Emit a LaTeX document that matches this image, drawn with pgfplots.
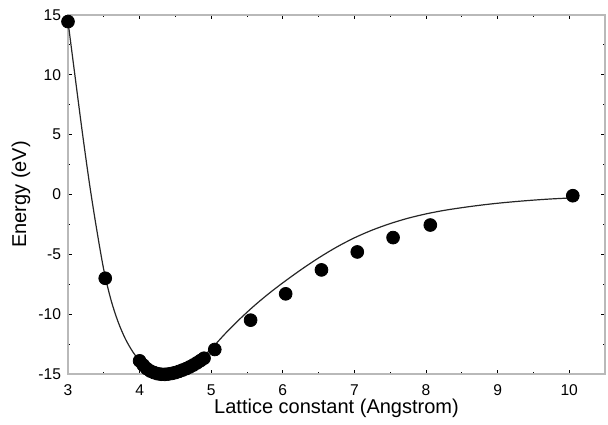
\documentclass[border=0pt]{standalone}
\usepackage{pgfplots}
\pgfplotsset{compat=1.18}
\usepackage{fontspec}
\setmainfont{Liberation Sans}

% fitted curve
\pgfplotstableread{
x      E
3.00   14.45
3.10   9.80
3.20   5.20
3.30   0.90
3.40  -2.90
3.50  -6.30
3.60  -8.80
3.70 -10.65
3.80 -12.05
3.90 -13.10
4.00 -13.90
4.10 -14.50
4.20 -14.85
4.30 -15.00
4.40 -15.00
4.50 -14.85
4.60 -14.60
4.70 -14.30
4.80 -13.90
4.90 -13.45
5.00 -12.90
5.20 -11.60
5.40 -10.40
5.60  -9.30
5.80  -8.30
6.00  -7.38
6.25  -6.30
6.50  -5.30
6.75  -4.40
7.00  -3.62
7.25  -2.97
7.50  -2.43
7.75  -1.98
8.00  -1.62
8.25  -1.33
8.50  -1.10
8.75  -0.90
9.00  -0.73
9.25  -0.59
9.50  -0.47
9.75  -0.37
10.05 -0.28
}\fitcurve

% computed energies
\pgfplotstableread{
x      E
3.00   14.45
3.52  -7.00
4.00 -13.90
4.05 -14.25
4.10 -14.55
4.15 -14.75
4.20 -14.88
4.25 -14.97
4.30 -15.02
4.35 -15.03
4.40 -15.00
4.45 -14.95
4.50 -14.88
4.55 -14.78
4.60 -14.67
4.65 -14.55
4.70 -14.41
4.75 -14.25
4.80 -14.07
4.85 -13.88
4.90 -13.68
5.05 -12.95
5.55 -10.50
6.04  -8.30
6.54  -6.30
7.04  -4.80
7.54  -3.60
8.06  -2.55
10.05 -0.10
}\energies

\begin{document}
\begin{tikzpicture}
\begin{axis}[
  name=ax,
  scale only axis, width=268.5pt, height=179.5pt,
  xmin=3, xmax=10.5, ymin=-15, ymax=15,
  xtick={3,...,10}, ytick={-15,-10,...,15},
  minor x tick num=1, minor y tick num=1,
  tick pos=both, tick align=inside,
  major tick length=2.2pt, minor tick length=1.2pt,
  every tick/.style={black, line width=0.5pt},
  axis line style={gray!55, line width=1.2pt},
  tick label style={font=\fontsize{7.8}{9}\selectfont},
  xticklabel style={yshift=-2pt},
  label style={font=\fontsize{10}{12}\selectfont},
  /pgf/number format/assume math mode=true,
  xlabel={Lattice constant (Angstrom)}, ylabel={Energy (eV)},
  xlabel style={at={(axis description cs:0.5,0)}, anchor=center, yshift=-17pt},
  ylabel style={at={(axis description cs:0,0.5)}, anchor=center, yshift=23.5pt},
  clip=false,
]
\addplot[gray!30!black, line width=0.6pt, smooth] table[x=x, y=E] {\fitcurve};
\addplot[only marks, mark=*, mark size=3.2pt, black] table[x=x, y=E] {\energies};
\end{axis}
\path (ax.south west) +(-34pt,-23pt) (ax.north east) +(1.5pt,7.5pt);
\end{tikzpicture}
\end{document}
